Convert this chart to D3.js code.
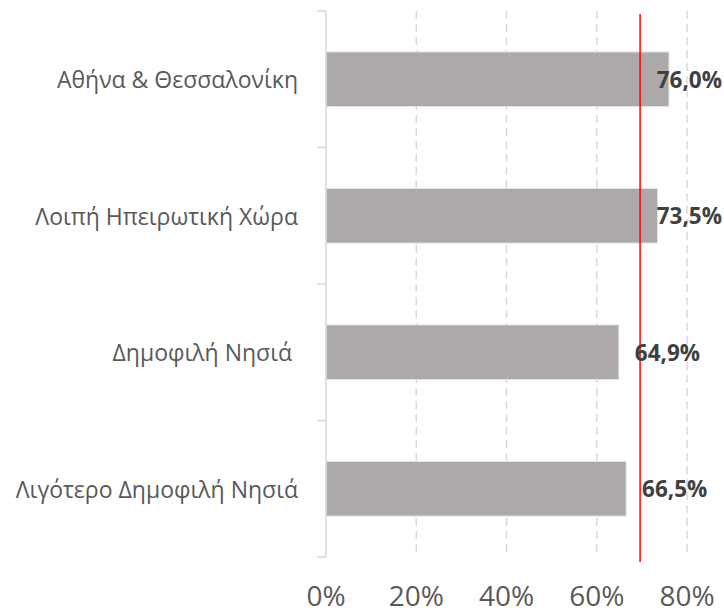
<!DOCTYPE html>
<html><head><meta charset="utf-8">
<script src="https://cdn.jsdelivr.net/npm/d3@7"></script>
<style>body{margin:0;background:#fff;} text{font-family:"Open Sans",sans-serif;}</style>
</head><body><svg id="c" width="724" height="611"></svg>
<script>
const categories = ["Αθήνα & Θεσσαλονίκη", "Λοιπή Ηπειρωτική Χώρα", "Δημοφιλή Νησιά ", "Λιγότερο Δημοφιλή Νησιά"];
const values = [76.0, 73.5, 64.9, 66.5];
const valueLabels = ["76,0%", "73,5%", "64,9%", "66,5%"];
const ticks = [0, 20, 40, 60, 80];
const tickLabels = ["0%", "20%", "40%", "60%", "80%"];
const reference = 69.6;

(function () {
const svg = d3.select("#c");
const pL = 326, pR = 687, pT = 11, pB = 557;
const x = d3.scaleLinear().domain([0, 80]).range([pL, pR]);
const y = d3.scaleBand().domain(categories).range([pT, pB]).paddingInner(0.6).paddingOuter(0.3);

// gridlines
svg.append("g").selectAll("line").data(ticks.slice(1)).join("line")
  .attr("x1", d => x(d)).attr("x2", d => x(d)).attr("y1", pT).attr("y2", pB)
  .attr("stroke", "#d9d9d9").attr("stroke-width", 1.5).attr("stroke-dasharray", "8,5");

// bars
svg.append("g").selectAll("rect").data(values).join("rect")
  .attr("x", x(0)).attr("y", (d, i) => y(categories[i]))
  .attr("width", d => x(d) - x(0)).attr("height", y.bandwidth())
  .attr("fill", "#ada9a8").attr("stroke", "#e4e2e2").attr("stroke-width", 1);

// left axis
const bounds = categories.map((_, i) => pT + i * (pB - pT) / categories.length);
bounds.push(pB);
const ag = svg.append("g");
ag.append("line").attr("x1", pL).attr("x2", pL).attr("y1", pT).attr("y2", pB).attr("stroke", "#d9d9d9").attr("stroke-width", 1.5);
ag.selectAll("line.t").data(bounds).join("line").attr("class", "t")
  .attr("x1", pL - 9).attr("x2", pL).attr("y1", d => d).attr("y2", d => d)
  .attr("stroke", "#d9d9d9").attr("stroke-width", 1.5);

// category labels
svg.append("g").selectAll("text").data(categories).join("text")
  .attr("x", 298).attr("y", d => y(d) + y.bandwidth() / 2)
  .attr("text-anchor", "end").attr("dominant-baseline", "central")
  .style("white-space", "pre")
  .attr("font-size", 23).attr("fill", "#595959").text(d => d);

// reference line
svg.append("line").attr("x1", x(reference)).attr("x2", x(reference)).attr("y1", 14).attr("y2", 562)
  .attr("stroke", "#ff0000").attr("stroke-width", 1.5);

// value labels
const vl = svg.append("g").selectAll("text").data(values).join("text")
  .attr("y", (d, i) => y(categories[i]) + y.bandwidth() / 2)
  .attr("dominant-baseline", "central")
  .attr("font-size", 22.5).attr("font-weight", "bold").attr("fill", "#404040")
  .text((d, i) => valueLabels[i]);
vl.each(function (d) {
  const w = this.getComputedTextLength();
  let xs = x(d) + 16;
  if (xs + w > 722) xs = 722 - w;
  d3.select(this).attr("x", xs);
});

// x tick labels
svg.append("g").selectAll("text").data(ticks).join("text")
  .attr("x", d => x(d)).attr("y", 606).attr("text-anchor", "middle")
  .attr("font-size", 28).attr("fill", "#595959").text((d, i) => tickLabels[i]);
})();
</script></body></html>
